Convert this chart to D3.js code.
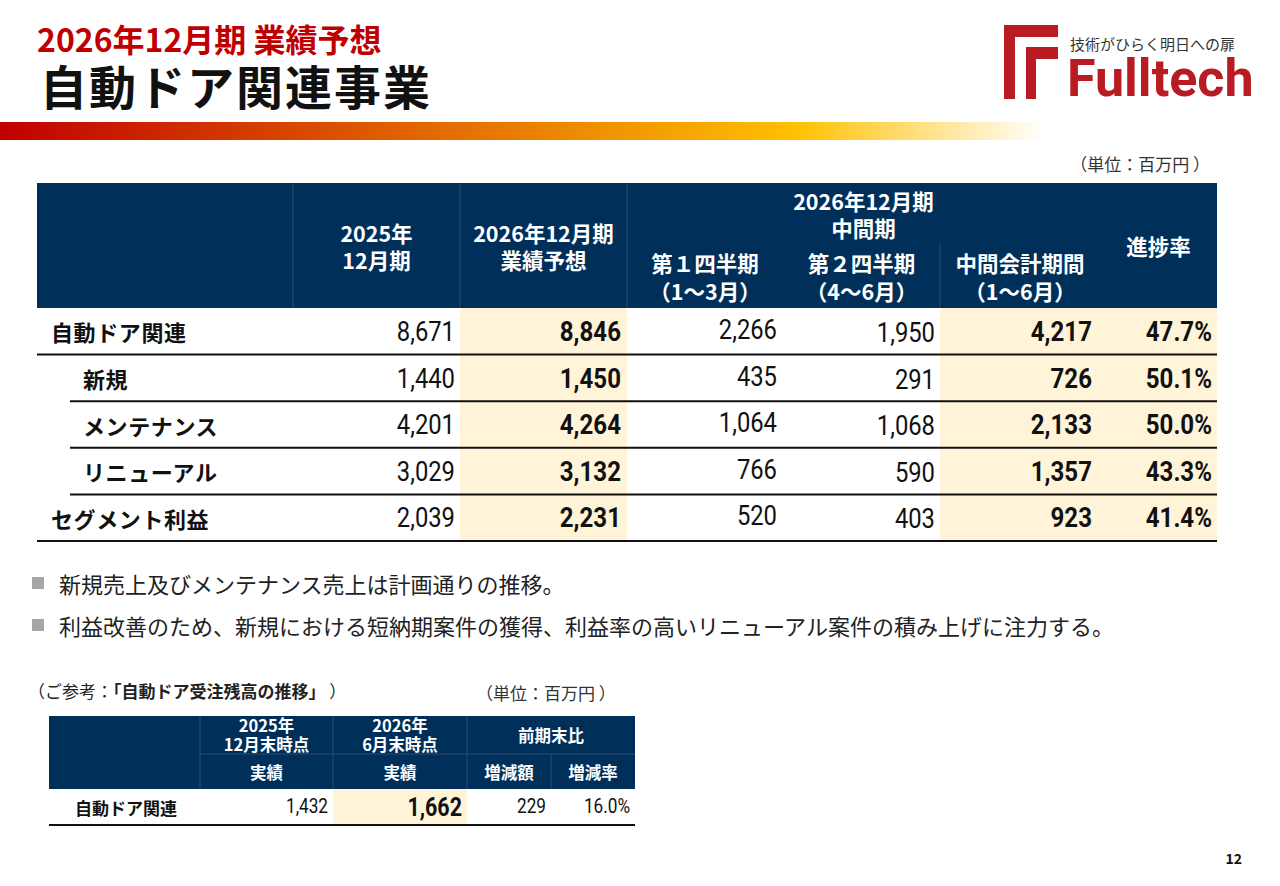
<!DOCTYPE html>
<html>
<head>
<meta charset="utf-8">
<style>
    body { margin: 0; background: #fff; }
    svg { display: block; font-family: "Noto Sans CJK JP", "Noto Sans", sans-serif; }
    .num { font-family: Roboto, "Noto Sans", sans-serif; }
</style>
</head>
<body>
<svg width="1280" height="886"></svg>
<script src="https://d3js.org/d3.v7.min.js"></script>
<script>
// ---- data ----
const rowLabels = ["自動ドア関連", "新規", "メンテナンス", "リニューアル", "セグメント利益"];
const rowLevel = [0, 1, 1, 1, 0];           // 1 = sub item of 自動ドア関連
const fy2025 = [8671, 1440, 4201, 3029, 2039];
const fy2026Plan = [8846, 1450, 4264, 3132, 2231];
const q1 = [2266, 435, 1064, 766, 520];
const q2 = [1950, 291, 1068, 590, 403];
const h1 = [4217, 726, 2133, 1357, 923];
const progress = [47.7, 50.1, 50.0, 43.3, 41.4];

const bullets = [
    "新規売上及びメンテナンス売上は計画通りの推移。",
    "利益改善のため、新規における短納期案件の獲得、利益率の高いリニューアル案件の積み上げに注力する。"
];

const backlogLabels = ["自動ドア関連"];
const backlog2025 = [1432];
const backlog2026 = [1662];
const backlogDiff = [229];
const backlogRate = [16.0];

const navy = "#00305a";
const cream = "#fff3d8";
const red = "#c00000";
const fmt = d3.format(",");
const pct = d => d3.format(".1f")(d) + "%";

let svg = d3.select("svg");

// header bar gradient
let defs = svg.append("defs");
let grad = defs.append("linearGradient").attr("id", "bar");
grad.append("stop").attr("offset", "0").attr("stop-color", "#c00000");
grad.append("stop").attr("offset", "0.38").attr("stop-color", "#e06000");
grad.append("stop").attr("offset", "0.76").attr("stop-color", "#ffc000");
grad.append("stop").attr("offset", "1").attr("stop-color", "#ffffff");

svg.append("rect").attr("x", 0).attr("y", 122).attr("width", 1045).attr("height", 18)
    .style("fill", "url(#bar)");

// titles
svg.append("text").attr("x", 37).attr("y", 52)
    .style("font-size", "32px").style("font-weight", 700).style("fill", red)
    .text("2026年12月期 業績予想");
svg.append("text").attr("x", 40).attr("y", 105)
    .style("font-size", "47px").style("font-weight", 700).style("fill", "#111")
    .style("letter-spacing", "2px")
    .text("自動ドア関連事業");

// logo
let logo = svg.append("g").style("fill", "#b81c22");
logo.append("path").attr("d", "M1004,25H1058V37H1015V99H1004Z");
logo.append("path").attr("d", "M1026,47H1058V59H1036V99H1026Z");
svg.append("text").attr("x", 1070).attr("y", 50)
    .style("font-size", "15px").style("fill", "#333").text("技術がひらく明日への扉");
svg.append("text").attr("class", "num").attr("x", 1067).attr("y", 96)
    .style("font-size", "52px").style("font-weight", 700).style("fill", "#b81c22")
    .text("Fulltech");

// ---- main table ----
const colEdges = [37, 293, 460, 627, 783, 940, 1100, 1217];
let y = d3.scaleBand().domain(d3.range(rowLabels.length)).range([308, 541]);
const headTop = 183, headBottom = 308;

svg.append("text").attr("x", 1210).attr("y", 163).attr("text-anchor", "end").attr("dominant-baseline", "central")
    .style("font-size", "17px").style("fill", "#333").text("（単位：百万円 ）");

svg.append("rect").attr("x", colEdges[0]).attr("y", headTop)
    .attr("width", colEdges[7] - colEdges[0]).attr("height", headBottom - headTop)
    .style("fill", navy);

// faint dividers in header
let hdiv = [[colEdges[1], headTop], [colEdges[2], headTop], [colEdges[3], headTop], [colEdges[5], 243]];
svg.append("g").selectAll("line").data(hdiv).join("line")
    .attr("x1", d => d[0]).attr("x2", d => d[0])
    .attr("y1", d => d[1]).attr("y2", headBottom)
    .style("stroke", "#2b4b72").style("stroke-width", 1);

function headText(x, ys, lines, size) {
    let t = svg.append("text").attr("text-anchor", "middle")
        .style("font-size", size + "px").style("font-weight", 700).style("fill", "#fff");
    lines.forEach((s, i) => {
        t.append("tspan").attr("x", x).attr("y", ys[i]).attr("dominant-baseline", "central").text(s);
    });
}
const mid = (a, b) => (colEdges[a] + colEdges[b]) / 2;
headText(mid(1, 2), [232, 259], ["2025年", "12月期"], 21.5);
headText(mid(2, 3), [232, 259], ["2026年12月期", "業績予想"], 21.5);
headText(mid(3, 6), [200, 227], ["2026年12月期", "中間期"], 21.5);
headText(mid(3, 4), [262, 290], ["第１四半期", "（1～3月）"], 21.5);
headText(mid(4, 5), [262, 290], ["第２四半期", "（4～6月）"], 21.5);
headText(mid(5, 6), [262, 290], ["中間会計期間", "（1～6月）"], 21.5);
headText(mid(6, 7), [245], ["進捗率"], 21.5);

// highlighted columns
let body = svg.append("g");
body.append("rect").attr("x", colEdges[2]).attr("y", 308)
    .attr("width", colEdges[3] - colEdges[2]).attr("height", 233).style("fill", cream);
body.append("rect").attr("x", colEdges[5]).attr("y", 308)
    .attr("width", colEdges[7] - colEdges[5]).attr("height", 233).style("fill", cream);

// row labels
body.selectAll(".rlabel").data(rowLabels).join("text")
    .attr("class", "rlabel")
    .attr("x", (d, i) => rowLevel[i] ? 83 : 51)
    .attr("y", (d, i) => y(i) + y.bandwidth() / 2)
    .attr("dominant-baseline", "central")
    .style("font-size", "22px").style("font-weight", 700).style("fill", "#111")
    .style("letter-spacing", "0.6px")
    .text(d => d);

// numeric cells
function numCol(g, values, xr, bold, f, dyFix) {
    g.append("g").selectAll("text").data(values).join("text")
        .attr("class", "num")
        .attr("transform", (d, i) => `translate(${xr},${y(i) + y.bandwidth() / 2 + (dyFix || 0)}) scale(${bold ? 0.86 : 0.85},1)`)
        .attr("text-anchor", "end").attr("dominant-baseline", "central")
        .style("font-size", "28px").style("font-weight", bold ? 700 : 400).style("fill", "#111")
        .text(f);
}
numCol(body, fy2025, colEdges[2] - 5, false, fmt);
numCol(body, fy2026Plan, colEdges[3] - 6, true, fmt);
numCol(body, q1, colEdges[4] - 6, false, fmt, -2);
numCol(body, q2, colEdges[5] - 5, false, fmt, 1);
numCol(body, h1, colEdges[6] - 8, true, fmt);
numCol(body, progress, colEdges[7] - 5, true, pct);

// row rules (sub items are indented)
body.append("g").selectAll("line").data(rowLabels).join("line")
    .attr("x1", (d, i) => rowLevel[i] ? 70 : colEdges[0])
    .attr("x2", colEdges[7])
    .attr("y1", (d, i) => y(i) + y.bandwidth()).attr("y2", (d, i) => y(i) + y.bandwidth())
    .style("stroke", "#111").style("stroke-width", 2);

// ---- bullets ----
let bl = svg.append("g").selectAll("g").data(bullets).join("g")
    .attr("transform", (d, i) => `translate(0,${583 + i * 42})`);
bl.append("rect").attr("x", 32).attr("y", -6).attr("width", 12).attr("height", 12).style("fill", "#a6a6a6");
bl.append("text").attr("x", 59).attr("dominant-baseline", "central")
    .style("font-size", "22px").style("fill", "#222").text(d => d);

// ---- backlog reference table ----
let note = svg.append("text").attr("x", 28).attr("y", 690).attr("dominant-baseline", "central")
    .style("font-size", "17px").style("fill", "#222");
note.append("tspan").text("（ご参考：");
note.append("tspan").style("font-weight", 700).text("「自動ドア受注残高の推移」");
note.append("tspan").text(" ）");
svg.append("text").attr("x", 476).attr("y", 692).attr("dominant-baseline", "central")
    .style("font-size", "17px").style("fill", "#333").text("（単位：百万円 ）");

const bCol = [49, 200, 333, 467, 551, 635];
const bTop = 716, bMid = 754, bHead = 789, bBottom = 825;
let by = d3.scaleBand().domain(d3.range(backlogLabels.length)).range([bHead, bBottom]);

svg.append("rect").attr("x", bCol[0]).attr("y", bTop).attr("width", bCol[5] - bCol[0])
    .attr("height", bHead - bTop).style("fill", navy);
let bdiv = [[bCol[1], bCol[1], bTop, bHead], [bCol[2], bCol[2], bTop, bHead], [bCol[3], bCol[3], bTop, bHead],
            [bCol[4], bCol[4], bMid, bHead], [bCol[1], bCol[5], bMid, bMid]];
svg.append("g").selectAll("line").data(bdiv).join("line")
    .attr("x1", d => d[0]).attr("x2", d => d[1]).attr("y1", d => d[2]).attr("y2", d => d[3])
    .style("stroke", "#2b4b72").style("stroke-width", 1);

function bHeadText(x, ys, lines) {
    let t = svg.append("text").attr("text-anchor", "middle")
        .style("font-size", "16.5px").style("font-weight", 700).style("fill", "#fff");
    lines.forEach((s, i) => {
        t.append("tspan").attr("x", x).attr("y", ys[i]).attr("dominant-baseline", "central").text(s);
    });
}
const bmid = (a, b) => (bCol[a] + bCol[b]) / 2;
bHeadText(bmid(1, 2), [725, 744, 772], ["2025年", "12月末時点", "実績"]);
bHeadText(bmid(2, 3), [725, 744, 772], ["2026年", "6月末時点", "実績"]);
bHeadText(bmid(3, 5), [735], ["前期末比"]);
bHeadText(bmid(3, 4), [772], ["増減額"]);
bHeadText(bmid(4, 5), [772], ["増減率"]);

let bb = svg.append("g");
bb.append("rect").attr("x", bCol[2]).attr("y", bHead).attr("width", bCol[3] - bCol[2])
    .attr("height", bBottom - bHead).style("fill", cream);
bb.selectAll(".blabel").data(backlogLabels).join("text").attr("class", "blabel")
    .attr("x", 75).attr("y", (d, i) => by(i) + by.bandwidth() / 2).attr("dominant-baseline", "central")
    .style("font-size", "17px").style("font-weight", 700).style("fill", "#111").text(d => d);

function bNum(values, xr, size, bold, f) {
    bb.append("g").selectAll("text").data(values).join("text").attr("class", "num")
        .attr("transform", (d, i) => `translate(${xr},${by(i) + by.bandwidth() / 2}) scale(0.86,1)`)
        .attr("text-anchor", "end").attr("dominant-baseline", "central")
        .style("font-size", size + "px").style("font-weight", bold ? 700 : 400).style("fill", "#111")
        .text(f);
}
bNum(backlog2025, bCol[2] - 5, 20, false, fmt);
bNum(backlog2026, bCol[3] - 5, 25, true, fmt);
bNum(backlogDiff, bCol[4] - 5, 20, false, fmt);
bNum(backlogRate, bCol[5] - 5, 20, false, pct);

bb.append("line").attr("x1", bCol[0]).attr("x2", bCol[5]).attr("y1", bBottom).attr("y2", bBottom)
    .style("stroke", "#111").style("stroke-width", 2);

// page number
svg.append("text").attr("x", 1242).attr("y", 858).attr("text-anchor", "end").attr("dominant-baseline", "central")
    .style("font-size", "14px").style("font-weight", 700).style("fill", "#111").text("12");
</script>
</body>
</html>
